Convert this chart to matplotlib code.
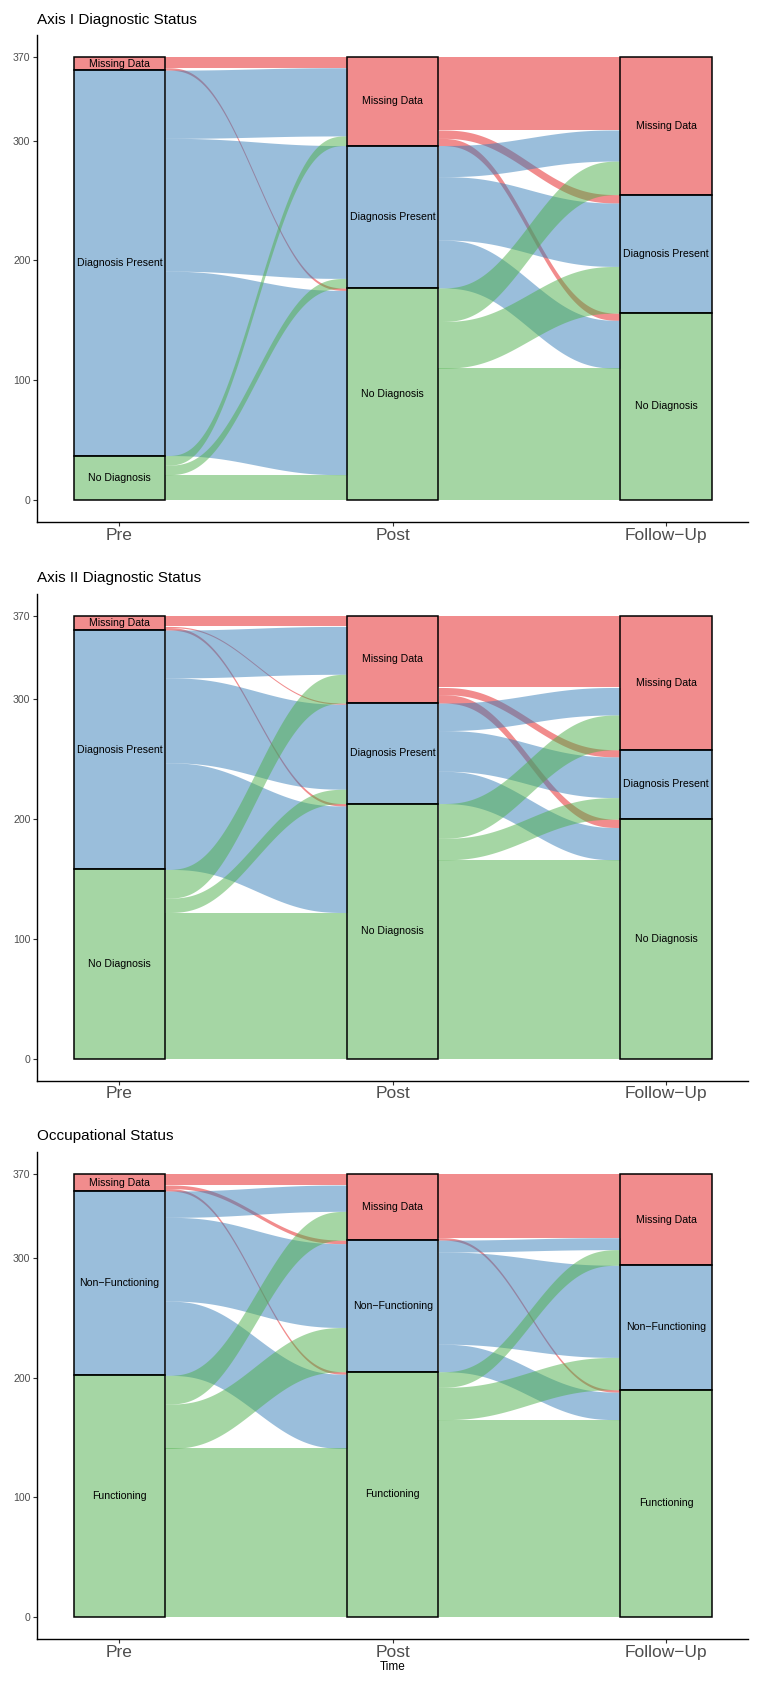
import numpy as np
import matplotlib
matplotlib.use("Agg")
import matplotlib.pyplot as plt
from matplotlib.colors import to_rgba

plt.rcParams['font.family'] = ['Liberation Sans', 'DejaVu Sans']

TIMES = ["Pre", "Post", "Follow\u2212Up"]
Y_TICKS = [0, 100, 200, 300, 370]
COLORS = ["#E41A1C", "#377EB8", "#4DAF4A"]   # Set1 red / blue / green

# rows = stratum at the earlier time, cols = stratum at the later time
# (order of levels = top to bottom in the stack)
AXIS1_TITLE = "Axis I Diagnostic Status"
AXIS1_LEVELS = ["Missing Data", "Diagnosis Present", "No Diagnosis"]
AXIS1_PRE_POST = [[9, 0, 2],
                  [57, 111, 154],
                  [8, 8, 21]]
AXIS1_POST_FU = [[61, 7, 6],
                 [26, 53, 40],
                 [28, 39, 110]]

AXIS2_TITLE = "Axis II Diagnostic Status"
AXIS2_LEVELS = ["Missing Data", "Diagnosis Present", "No Diagnosis"]
AXIS2_PRE_POST = [[9, 1, 2],
                  [40, 71, 89],
                  [24, 12, 122]]
AXIS2_POST_FU = [[60, 6, 7],
                 [23, 34, 27],
                 [29, 18, 166]]

OCC_TITLE = "Occupational Status"
OCC_LEVELS = ["Missing Data", "Non\u2212Functioning", "Functioning"]
OCC_PRE_POST = [[9, 3, 2],
                [22, 70, 62],
                [24, 37, 141]]
OCC_POST_FU = [[53, 0, 2],
               [10, 77, 23],
               [13, 27, 165]]

HW = 1 / 6  # half stratum width


def smooth(u):
    return u ** 3 * (u * (6 * u - 15) + 10)


def draw_panel(ax, levels, pre_post, post_fu):
    mats = [np.array(pre_post, float), np.array(post_fu, float)]
    totals = [mats[0].sum(axis=1), mats[0].sum(axis=0), mats[1].sum(axis=0)]
    grand = totals[0].sum()
    tops = [grand - np.concatenate([[0], np.cumsum(t)[:-1]]) for t in totals]

    u = np.linspace(0, 1, 120)
    s = smooth(u)
    for k, m in enumerate(mats):
        x0, x1 = k + 1 + HW, k + 2 - HW
        xs = x0 + (x1 - x0) * u
        start = np.zeros_like(m)
        end = np.zeros_like(m)
        cur = tops[k].copy()
        for i in range(3):
            for j in range(3):
                start[i, j] = cur[i]
                cur[i] -= m[i, j]
        cur = tops[k + 1].copy()
        for j in range(3):
            for i in range(3):
                end[i, j] = cur[j]
                cur[j] -= m[i, j]
        for i in range(3):
            for j in range(3):
                n = m[i, j]
                if n == 0:
                    continue
                top = start[i, j] + (end[i, j] - start[i, j]) * s
                ax.fill_between(xs, top - n, top, color=COLORS[i], alpha=0.5,
                                lw=0, zorder=1)

    for k in range(3):
        for i, lev in enumerate(levels):
            h = totals[k][i]
            bot = tops[k][i] - h
            ax.bar(k + 1, h, bottom=bot, width=2 * HW,
                   facecolor=to_rgba(COLORS[i], 0.5), edgecolor="black",
                   linewidth=1.1, zorder=3)
            ax.text(k + 1, bot + h / 2, lev, ha="center", va="center",
                    fontsize=7.6, color="black", zorder=4)

    ax.set_xlim(0.697, 3.30)
    ax.set_ylim(-18.5, 388.5)
    ax.set_xticks([1, 2, 3])
    ax.set_xticklabels(TIMES)
    ax.set_yticks(Y_TICKS)
    for side in ("top", "right"):
        ax.spines[side].set_visible(False)
    for side in ("left", "bottom"):
        ax.spines[side].set_linewidth(1.0)
        ax.spines[side].set_color("black")
    ax.tick_params(axis="x", labelsize=12.5, labelcolor="#4D4D4D",
                   length=3, width=0.8, color="#333333", pad=1)
    ax.tick_params(axis="y", labelsize=7.6, labelcolor="#4D4D4D",
                   length=3, width=0.8, color="#333333", pad=1.5)


W, H = 763, 1691
fig = plt.figure(figsize=(W / 100, H / 100), dpi=100, facecolor="white")

panels = [(AXIS1_TITLE, AXIS1_LEVELS, AXIS1_PRE_POST, AXIS1_POST_FU, 34.8, 20),
          (AXIS2_TITLE, AXIS2_LEVELS, AXIS2_PRE_POST, AXIS2_POST_FU, 593.5, 578),
          (OCC_TITLE, OCC_LEVELS, OCC_PRE_POST, OCC_POST_FU, 1152.1, 1136)]

left_px, right_px, height_px = 36.7, 748, 487.2
for idx, (title, levels, pp, pf, top_px, title_px) in enumerate(panels):
    ax = fig.add_axes([left_px / W, 1 - (top_px + height_px) / H,
                       (right_px - left_px) / W, height_px / H])
    draw_panel(ax, levels, pp, pf)
    fig.text(37.3 / W, 1 - title_px / H, title, ha="left", va="center",
             fontsize=11, color="black")
    if idx == 2:
        ax.set_xlabel("Time", fontsize=8.5, color="black", labelpad=1)

fig.savefig("out.png", dpi=100, facecolor="white")
